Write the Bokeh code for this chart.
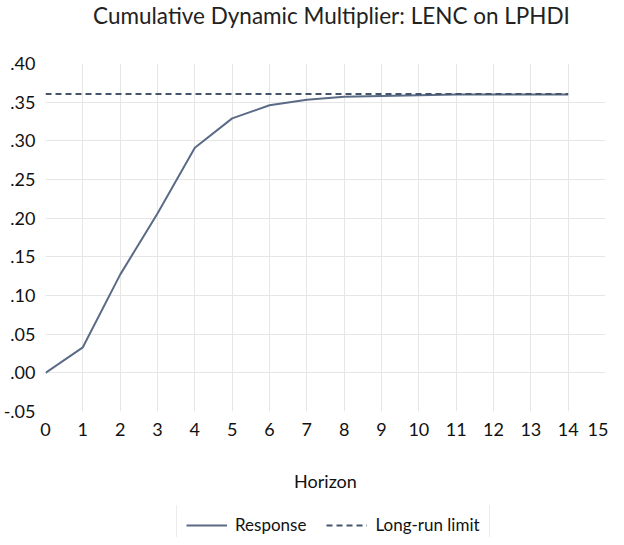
from bokeh.plotting import figure
from bokeh.layouts import column
from bokeh.models import FixedTicker, Legend, LegendItem, Range1d
from bokeh.core.properties import value
from bokeh.embed import file_html
from bokeh.resources import INLINE

title_text = "Cumulative Dynamic Multiplier: LENC on LPHDI"
horizon = [0, 1, 2, 3, 4, 5, 6, 7, 8, 9, 10, 11, 12, 13, 14]
response = [0.000, 0.033, 0.127, 0.206, 0.291, 0.329, 0.346, 0.353, 0.357, 0.358, 0.359, 0.360, 0.360, 0.360, 0.360]
long_run = [0.3605] * 15

x_ticks = list(range(0, 16))
y_ticks = [-0.05, 0.00, 0.05, 0.10, 0.15, 0.20, 0.25, 0.30, 0.35, 0.40]
y_tick_labels = ["-.05", ".00", ".05", ".10", ".15", ".20", ".25", ".30", ".35", ".40"]

FONT = "Lato"
RESP_COLOR = "#5b6b86"
LR_COLOR = "#44546a"


def strip(height, y_range):
    fig = figure(width=608, height=height, output_backend="svg", toolbar_location=None,
                 x_range=Range1d(0, 1), y_range=y_range,
                 x_axis_location=None, y_axis_location=None,
                 min_border_left=0, min_border_right=0, min_border_top=0, min_border_bottom=0)
    fig.grid.visible = False
    fig.outline_line_color = None
    return fig


# title strip
tt = strip(30, Range1d(0, 1))
tt.text(x=[0.5], y=[0.5], text=[title_text], x_offset=6,
        text_font=value(FONT), text_font_size="22.5px", text_color="#222222",
        text_align="center", text_baseline="middle")

# main chart
p = figure(width=608, height=475, output_backend="svg", toolbar_location=None,
           x_range=Range1d(0, 15), y_range=Range1d(-0.05, 0.40),
           min_border_left=44, min_border_right=3, min_border_top=33,
           min_border_bottom=94)
p.outline_line_color = None

p.xaxis.ticker = FixedTicker(ticks=x_ticks)
p.yaxis.ticker = FixedTicker(ticks=y_ticks)
p.yaxis.major_label_overrides = {t: l for t, l in zip(y_ticks, y_tick_labels)}
for ax in (p.xaxis, p.yaxis):
    ax.axis_line_color = None
    ax.major_tick_line_color = None
    ax.minor_tick_line_color = None
    ax.major_tick_out = 0
    ax.major_label_text_font = FONT
    ax.major_label_text_font_size = "18px"
    ax.major_label_text_color = "#111111"
p.yaxis.major_label_standoff = 10
p.xaxis.major_label_standoff = 11
p.xaxis.axis_label = "Horizon"
p.xaxis.axis_label_text_font = FONT
p.xaxis.axis_label_text_font_size = "18px"
p.xaxis.axis_label_text_font_style = "normal"
p.xaxis.axis_label_text_color = "#111111"
p.xaxis.axis_label_standoff = 31

p.grid.grid_line_color = "#e6e6e6"
p.grid.grid_line_width = 1

p.line(horizon, response, line_color=RESP_COLOR, line_width=2)
p.line(horizon, long_run, line_color=LR_COLOR, line_width=2, line_dash="6 4")

# legend strip below the chart (series drawn far outside its visible range)
lg = strip(32, Range1d(10, 11))
d1 = lg.line(horizon, response, line_color=RESP_COLOR, line_width=2)
d2 = lg.line(horizon, long_run, line_color=LR_COLOR, line_width=2, line_dash="6 4")
legend = Legend(items=[LegendItem(label="Response", renderers=[d1]),
                       LegendItem(label="Long-run limit", renderers=[d2])],
                orientation="horizontal", location=(131, -8),
                label_text_font=FONT, label_text_font_size="17px",
                label_text_color="#111111", glyph_width=41, glyph_height=16,
                label_height=16, label_standoff=8, spacing=20,
                border_line_color="#d9d9d9", padding=9, margin=0)
lg.add_layout(legend, "center")

layout = column(tt, p, lg, spacing=0)
open("out.html", "w").write(file_html(layout, INLINE))
